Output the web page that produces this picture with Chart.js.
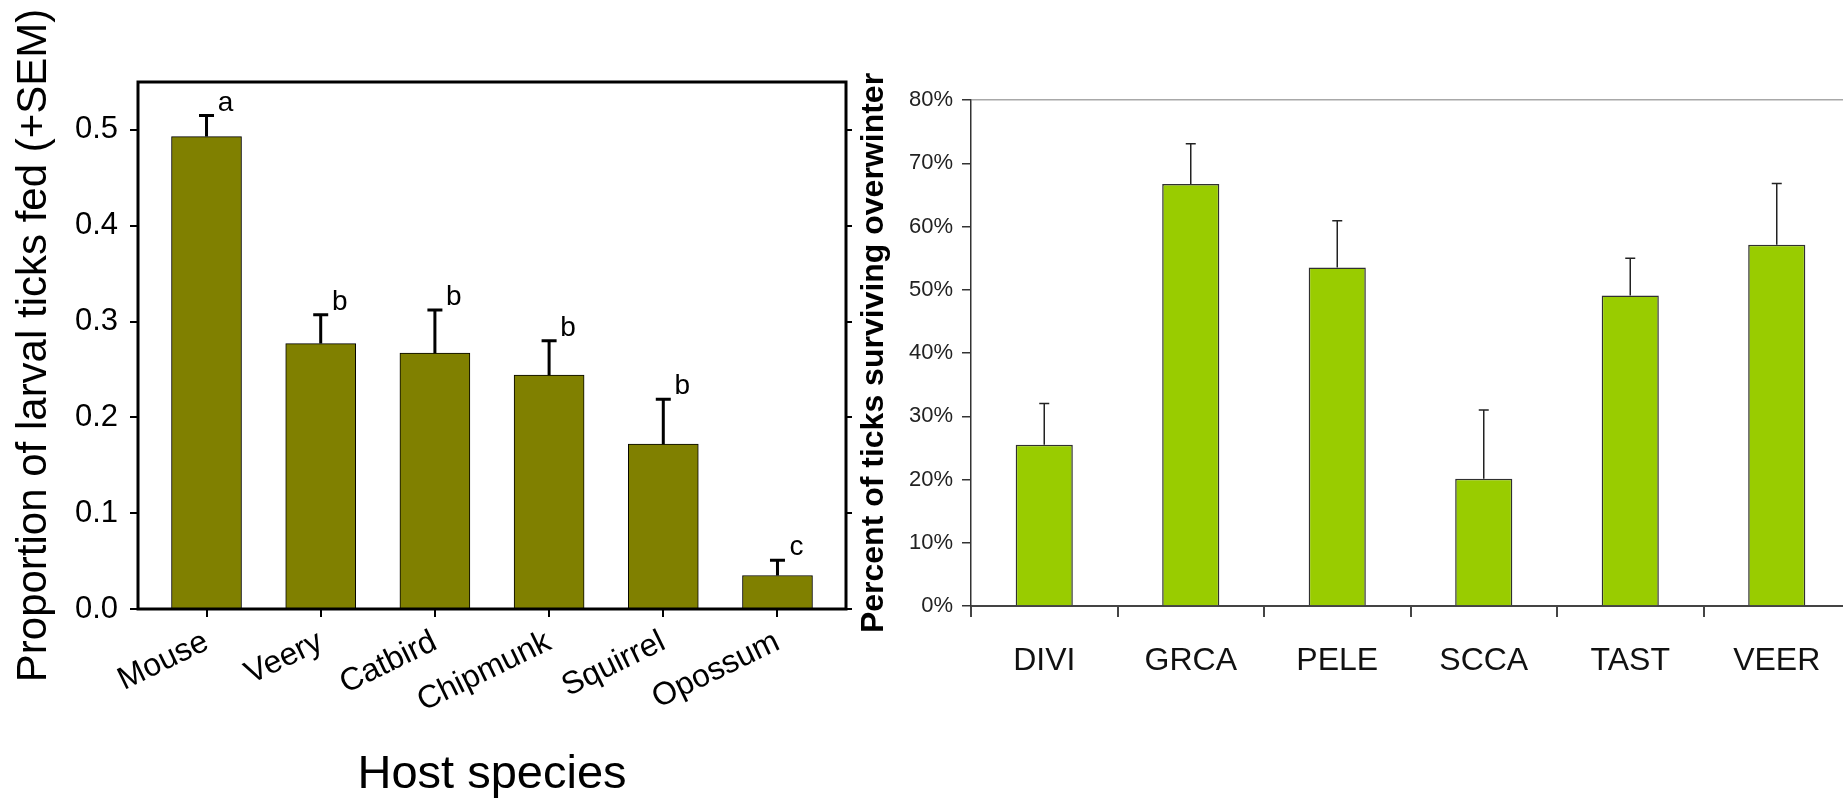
<!DOCTYPE html>
<html>
<head>
<meta charset="utf-8">
<script src="https://cdn.jsdelivr.net/npm/chart.js@4.4.1/dist/chart.umd.min.js"></script>
<style>
  html, body { margin: 0; padding: 0; background: #fff; overflow: hidden; }
  body { width: 1843px; height: 805px; position: relative; }
  #hostChart { position: absolute; left: 0; top: 0; }
  #winterChart { position: absolute; left: 855px; top: 0; }
</style>
</head>
<body>
<canvas id="hostChart" width="860" height="805"></canvas>
<canvas id="winterChart" width="1005" height="805"></canvas>
<script>
const hostLabels = ['Mouse', 'Veery', 'Catbird', 'Chipmunk', 'Squirrel', 'Opossum'];
const fedValues = [0.493, 0.277, 0.267, 0.244, 0.172, 0.035];
const fedSem = [0.022, 0.030, 0.045, 0.036, 0.047, 0.016];
const fedLetters = ['a', 'b', 'b', 'b', 'b', 'c'];
const fedTicks = [0, 0.1, 0.2, 0.3, 0.4, 0.5];

const birdLabels = ['DIVI', 'GRCA', 'PELE', 'SCCA', 'TAST', 'VEER'];
const survivalValues = [25.5, 66.7, 53.5, 20.1, 49.1, 57.1];
const survivalSem = [6.5, 6.4, 7.4, 10.9, 5.9, 9.7];
const survivalTicks = [0, 10, 20, 30, 40, 50, 60, 70, 80];

const sans = "'Liberation Sans', Arial, sans-serif";

// error bars (+SEM) and the letters above them
const errBars = {
    id: 'errBars',
    afterDatasetsDraw(chart, args, opts) {
        const ctx = chart.ctx;
        const yScale = chart.scales.y;
        const data = chart.data.datasets[0].data;
        ctx.save();
        ctx.strokeStyle = opts.color;
        ctx.lineWidth = opts.lineWidth;
        chart.getDatasetMeta(0).data.forEach((bar, i) => {
            const v = typeof data[i] === 'object' ? data[i].y : data[i];
            const capY = yScale.getPixelForValue(v + opts.sem[i]);
            ctx.beginPath();
            ctx.moveTo(bar.x, bar.y);
            ctx.lineTo(bar.x, capY);
            ctx.moveTo(bar.x - opts.cap / 2, capY);
            ctx.lineTo(bar.x + opts.cap / 2, capY);
            ctx.stroke();
            if (opts.letters) {
                ctx.fillStyle = '#000';
                ctx.font = opts.letterFont;
                ctx.textAlign = 'center';
                ctx.textBaseline = 'alphabetic';
                ctx.fillText(opts.letters[i], bar.x + 19, capY - 5);
            }
        });
        ctx.restore();
    }
};

const frame = {
    id: 'frame',
    afterDatasetsDraw(chart) {
        const {ctx, chartArea} = chart;
        ctx.save();
        ctx.strokeStyle = '#000';
        ctx.lineWidth = 3;
        ctx.strokeRect(chartArea.left, chartArea.top, chartArea.right - chartArea.left, chartArea.bottom - chartArea.top);
        ctx.restore();
    }
};

const fedTickList = scale => { scale.ticks = fedTicks.map(v => ({value: v})); };

new Chart(document.getElementById('hostChart'), {
    type: 'bar',
    data: {
        datasets: [{
            data: fedValues.map((v, i) => ({x: i, y: v})),
            backgroundColor: '#808000',
            borderColor: '#000',
            borderWidth: 1,
            barThickness: 70
        }]
    },
    options: {
        responsive: false,
        animation: false,
        layout: {padding: {top: 82, right: 0, bottom: 0, left: 0}},
        plugins: {
            legend: {display: false},
            tooltip: {enabled: false},
            errBars: {sem: fedSem, letters: fedLetters, cap: 15, lineWidth: 3, color: '#000', letterFont: '28px ' + sans}
        },
        scales: {
            x: {
                type: 'linear',
                offset: false,
                min: -0.6,
                max: 5.6,
                afterBuildTicks: scale => { scale.ticks = hostLabels.map((l, i) => ({value: i})); },
                afterFit: scale => { scale.height = 196; },
                ticks: {
                    callback: v => hostLabels[v],
                    minRotation: 26,
                    maxRotation: 26,
                    autoSkip: false,
                    font: {family: sans, size: 32},
                    color: '#000',
                    padding: 6
                },
                grid: {offset: false, drawOnChartArea: false, tickLength: 8, color: '#000', lineWidth: 2},
                border: {display: false},
                title: {
                    display: true,
                    text: 'Host species',
                    font: {family: sans, size: 47},
                    color: '#000',
                    padding: {top: 0, bottom: 2}
                }
            },
            y: {
                min: 0,
                max: 0.55,
                afterBuildTicks: fedTickList,
                afterFit: scale => { scale.width = 138; },
                ticks: {
                    callback: v => v.toFixed(1),
                    font: {family: sans, size: 31},
                    color: '#000',
                    padding: 12
                },
                grid: {drawOnChartArea: false, tickLength: 8, color: '#000', lineWidth: 2},
                border: {display: false},
                title: {
                    display: true,
                    text: 'Proportion of larval ticks fed (+SEM)',
                    font: {family: sans, size: 42, lineHeight: 1},
                    color: '#000',
                    padding: {top: 13, bottom: 0}
                }
            },
            y2: {
                position: 'right',
                min: 0,
                max: 0.55,
                afterBuildTicks: fedTickList,
                afterFit: scale => { scale.width = 14; },
                ticks: {display: false},
                grid: {drawOnChartArea: false, tickLength: 6, color: '#000', lineWidth: 2},
                border: {display: false}
            }
        }
    },
    plugins: [errBars, frame]
});

new Chart(document.getElementById('winterChart'), {
    type: 'bar',
    data: {
        labels: birdLabels,
        datasets: [{
            data: survivalValues,
            backgroundColor: '#99cc00',
            borderColor: '#303030',
            borderWidth: 1.5,
            barPercentage: 0.39,
            categoryPercentage: 1
        }]
    },
    options: {
        responsive: false,
        animation: false,
        layout: {padding: {top: 100, right: 10, bottom: 0, left: 0}},
        plugins: {
            legend: {display: false},
            tooltip: {enabled: false},
            errBars: {sem: survivalSem, cap: 10, lineWidth: 1.5, color: '#222'}
        },
        scales: {
            x: {
                afterFit: scale => { scale.height = 199; },
                ticks: {font: {family: sans, size: 32}, color: '#111', padding: 25},
                grid: {offset: true, drawOnChartArea: false, tickLength: 11, color: '#444', lineWidth: 2},
                border: {color: '#444', width: 2}
            },
            y: {
                min: 0,
                max: 80,
                afterBuildTicks: scale => { scale.ticks = survivalTicks.map(v => ({value: v})); },
                afterFit: scale => { scale.width = 116; },
                ticks: {
                    callback: v => v + '%',
                    font: {family: sans, size: 22},
                    color: '#222',
                    padding: 9
                },
                grid: {
                    color: c => (c.tick && c.tick.value === 80) ? '#a8a8a8' : 'rgba(0,0,0,0)',
                    tickColor: '#333',
                    tickLength: 9,
                    lineWidth: 1.5
                },
                border: {color: '#333', width: 1.5},
                title: {
                    display: true,
                    text: 'Percent of ticks surviving overwinter',
                    font: {family: sans, size: 32, weight: 'bold', lineHeight: 1},
                    color: '#000',
                    padding: {top: 3, bottom: 0}
                }
            }
        }
    },
    plugins: [errBars]
});
</script>
</body>
</html>
